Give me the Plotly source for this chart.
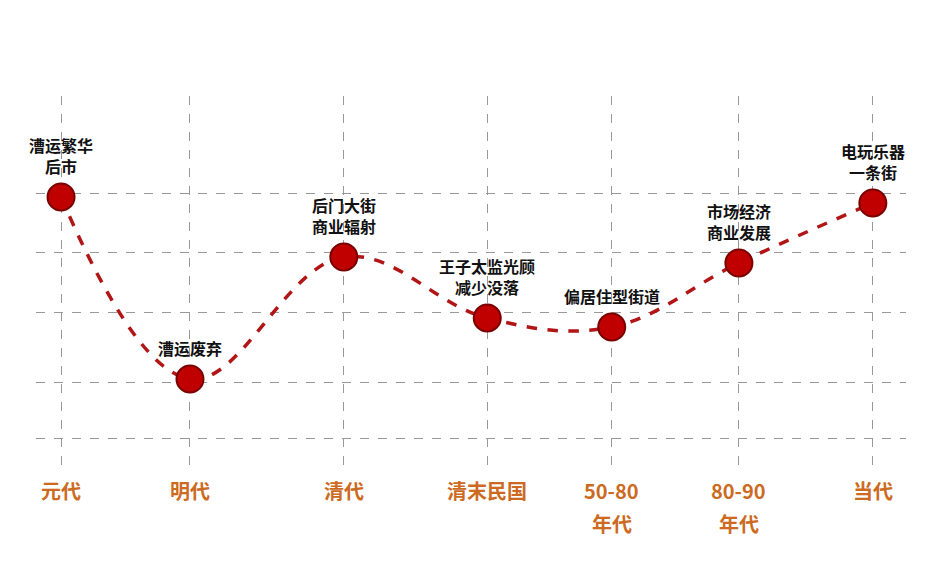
import plotly.graph_objects as go

# positions along the axis (uneven spacing as in the source)
eras = ["元代", "明代", "清代", "清末民国", "50-80", "80-90", "当代"]
eras_line2 = ["", "", "", "", "年代", "年代", ""]
era_x = [0, 0.953, 2.09, 3.15, 4.07, 5.01, 6.0]
level = [304, 122, 244, 183, 174, 238, 298]
notes = ["漕运繁华<br>后市", "漕运废弃", "后门大街<br>商业辐射", "王子太监光顾<br>减少没落",
         "偏居住型街道", "市场经济<br>商业发展", "电玩乐器<br>一条街"]
grid_y = [63, 119, 189, 249, 308]

font = "Noto Sans CJK SC"
fig = go.Figure()

fig.add_trace(go.Scatter(
    x=era_x, y=level, mode="lines",
    line=dict(color="#b11515", width=3.5, dash="dash", shape="spline", smoothing=1.1),
    hoverinfo="skip"))
fig.add_trace(go.Scatter(
    x=era_x, y=level, mode="markers",
    marker=dict(size=27, color="#c00000", line=dict(color="#7a0000", width=2))))

for x, y, t in zip(era_x, level, notes):
    fig.add_annotation(x=x, y=y, text="<b>" + t + "</b>", showarrow=False,
                       yshift=17, yanchor="bottom",
                       font=dict(family=font, size=16, color="#111"))
for x, t, t2 in zip(era_x, eras, eras_line2):
    fig.add_annotation(x=x, y=0, yref="paper", text="<b>" + t + "</b>", showarrow=False,
                       yshift=-8, yanchor="top",
                       font=dict(family=font, size=20, color="#cc6a22"))
    if t2:
        fig.add_annotation(x=x, y=0, yref="paper", text="<b>" + t2 + "</b>", showarrow=False,
                           yshift=-41, yanchor="top",
                           font=dict(family=font, size=20, color="#cc6a22"))

fig.update_xaxes(range=[-0.185, 6.245], tickvals=era_x, showticklabels=False,
                 showgrid=True, gridcolor="#999", griddash="dash", gridwidth=1,
                 zeroline=False, showline=False)
fig.update_yaxes(range=[35, 405], tickvals=grid_y, showticklabels=False,
                 showgrid=True, gridcolor="#999", griddash="dash", gridwidth=1,
                 zeroline=False, showline=False)
fig.update_layout(width=930, height=588, showlegend=False,
                  plot_bgcolor="white", paper_bgcolor="white",
                  margin=dict(l=28, r=32, t=88, b=130),
                  font=dict(family=font))
fig.write_html("out.html")
